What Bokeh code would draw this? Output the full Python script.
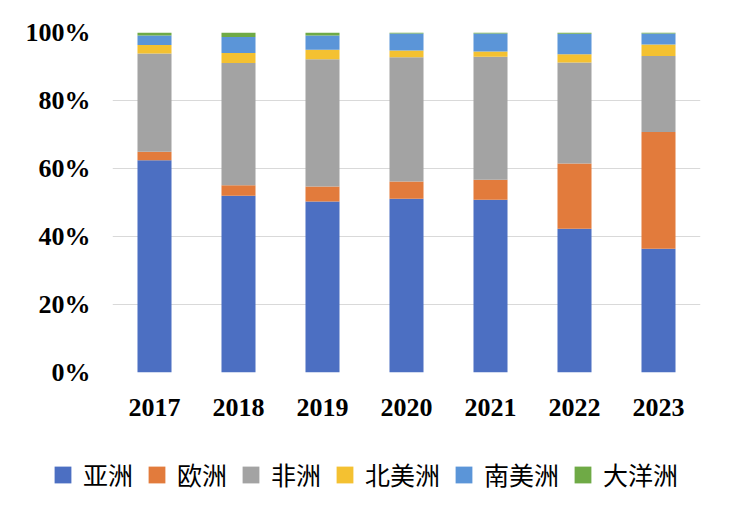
from bokeh.plotting import figure
from bokeh.layouts import column
from bokeh.models import (ColumnDataSource, FactorRange, Range1d, FixedTicker,
                          NumeralTickFormatter, Legend, LegendItem)
from bokeh.embed import file_html
from bokeh.resources import INLINE

years = ["2017", "2018", "2019", "2020", "2021", "2022", "2023"]
asia = [62.4, 52.0, 50.3, 51.1, 50.8, 42.3, 36.4]
europe = [2.5, 3.1, 4.4, 5.1, 5.9, 19.2, 34.3]
africa = [28.9, 35.9, 37.4, 36.5, 36.2, 29.7, 22.4]
north_america = [2.5, 3.0, 2.8, 2.0, 1.5, 2.4, 3.4]
south_america = [2.8, 4.7, 4.2, 5.0, 5.3, 6.0, 3.2]
oceania = [0.9, 1.3, 0.9, 0.3, 0.3, 0.4, 0.3]

series_names = ["亚洲", "欧洲", "非洲", "北美洲", "南美洲", "大洋洲"]
series_values = [asia, europe, africa, north_america, south_america, oceania]
colors = ["#4C6FC2", "#E27B3C", "#A3A3A3", "#F4C131", "#5B95D8", "#6FAA46"]
y_ticks = [0, 0.2, 0.4, 0.6, 0.8, 1.0]

keys = ["s%d" % i for i in range(len(series_names))]
data = {"year": years}
for k, vals in zip(keys, series_values):
    data[k] = [v / 100.0 for v in vals]
source = ColumnDataSource(data)

# main chart
p = figure(width=746, height=440, x_range=FactorRange(factors=years, range_padding=0),
           y_range=Range1d(0, 1), output_backend="svg", toolbar_location=None,
           min_border_left=112, min_border_right=46, min_border_top=32,
           min_border_bottom=68)
p.frame_align = False
p.outline_line_color = None
p.background_fill_color = "white"
p.border_fill_color = "white"

p.vbar_stack(keys, x="year", width=0.405, color=colors, source=source, line_color=None)

p.xgrid.grid_line_color = None
p.ygrid.grid_line_color = "#D9D9D9"
p.ygrid.grid_line_width = 1.2
p.yaxis.ticker = FixedTicker(ticks=y_ticks)
p.yaxis.formatter = NumeralTickFormatter(format="0%")
for ax in (p.xaxis[0], p.yaxis[0]):
    ax.axis_line_color = None
    ax.major_tick_line_color = None
    ax.minor_tick_line_color = None
    ax.major_label_text_font = "Liberation Serif"
    ax.major_label_text_font_style = "bold"
    ax.major_label_text_font_size = "26px"
    ax.major_label_text_color = "black"
p.yaxis.major_label_standoff = 16
p.xaxis.major_label_standoff = 20

# legend strip (its bars lie outside its visible y range; only the legend shows)
q = figure(width=746, height=78, x_range=FactorRange(factors=years, range_padding=0),
           y_range=Range1d(2, 3), output_backend="svg", toolbar_location=None,
           x_axis_type=None, y_axis_type=None, min_border=0)
q.frame_align = False
q.outline_line_color = None
q.xgrid.grid_line_color = None
q.ygrid.grid_line_color = None
legend_renderers = q.vbar_stack(keys, x="year", width=0.405, color=colors,
                                source=source, line_color=None)
items = [LegendItem(label=n, renderers=[r]) for n, r in zip(series_names, legend_renderers)]
legend = Legend(items=items, orientation="horizontal", location=(52, 26),
                glyph_width=21, glyph_height=21, label_standoff=10, spacing=13,
                padding=0, margin=0, border_line_color=None,
                background_fill_alpha=0,
                label_text_font="Noto Sans CJK SC", label_text_font_size="25px",
                label_text_color="black")
q.add_layout(legend, "center")

open("out.html", "w").write(file_html(column(p, q, spacing=0), INLINE))
